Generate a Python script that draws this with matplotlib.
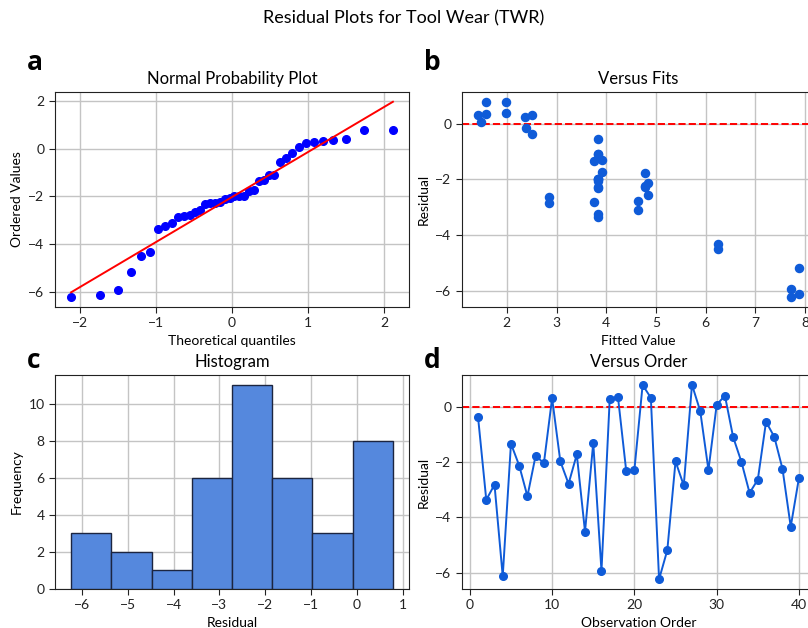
import numpy as np
import matplotlib
matplotlib.use("Agg")
import matplotlib.pyplot as plt
from statistics import NormalDist

plt.rcParams['font.family'] = ['Lato', 'DejaVu Sans']

# Residuals in observation order
residuals = [-0.38, -3.37, -2.82, -6.13, -1.34, -2.13, -3.24, -1.77, -2.05, 0.30,
             -1.98, -2.79, -1.73, -4.52, -1.31, -5.94, 0.26, 0.36, -2.31, -2.29,
             0.78, 0.32, -6.24, -5.19, -1.98, -2.85, 0.79, -0.16, -2.29, 0.06,
             0.40, -1.10, -1.99, -3.12, -2.64, -0.55, -1.09, -2.25, -4.34, -2.58]
# Fitted values matching each observation
fitted = [2.50, 3.84, 3.75, 7.88, 3.75, 4.84, 3.84, 4.78, 3.84, 2.50,
          3.84, 4.64, 3.91, 6.26, 3.91, 7.72, 2.37, 1.59, 3.84, 4.78,
          1.99, 1.42, 7.72, 7.88, 3.84, 2.84, 1.59, 2.38, 3.84, 1.47,
          1.99, 3.84, 3.84, 4.64, 2.84, 3.84, 3.84, 4.78, 6.26, 4.84]
order = list(range(1, len(residuals) + 1))
n_bins = 8

res = np.array(residuals)
n = len(res)

# Theoretical quantiles (Filliben order statistic medians)
m = np.empty(n)
m[-1] = 0.5 ** (1.0 / n)
m[0] = 1 - m[-1]
i = np.arange(2, n)
m[1:-1] = (i - 0.3175) / (n + 0.365)
nd = NormalDist()
osm = np.array([nd.inv_cdf(p) for p in m])
osr = np.sort(res)
slope, intercept = np.polyfit(osm, osr, 1)

W, H = 808, 628
fig = plt.figure(figsize=(W / 100, H / 100), dpi=100)

def ax_at(l, t, r, b):
    return fig.add_axes([l / W, 1 - b / H, (r - l) / W, (b - t) / H])

ax_a = ax_at(55, 92, 409, 307)
ax_b = ax_at(462, 92, 815, 307)
ax_c = ax_at(55, 375, 409, 589)
ax_d = ax_at(462, 375, 815, 589)

pt_color = '#0f5bd8'
grid_kw = dict(color='#c4c4c4', linewidth=1.0)
lab_fs = 10

for ax in (ax_a, ax_b, ax_c, ax_d):
    ax.grid(True, **grid_kw)
    ax.set_axisbelow(True)
    ax.tick_params(labelsize=10, colors='#222222', length=4)
    for s in ax.spines.values():
        s.set_color('#222222')

# a: normal probability plot
ax_a.plot(osm, osr, 'o', color='#0000ff', markersize=5.5)
ax_a.plot(osm, slope * osm + intercept, '-', color='#ff0000', linewidth=1.4)
ax_a.set_title('Normal Probability Plot', fontsize=12)
ax_a.set_xlabel('Theoretical quantiles', fontsize=lab_fs)
ax_a.set_ylabel('Ordered Values', fontsize=lab_fs)

# b: versus fits
ax_b.scatter(fitted, residuals, s=34, color=pt_color, zorder=3)
ax_b.axhline(0, color='#ff0000', linestyle='--', linewidth=1.4)
ax_b.set_title('Versus Fits', fontsize=12)
ax_b.set_xlabel('Fitted Value', fontsize=lab_fs)
ax_b.set_ylabel('Residual', fontsize=lab_fs)

# c: histogram
ax_c.hist(residuals, bins=n_bins, color='#5588dd', edgecolor='#1c2540', linewidth=1.0, zorder=3)
ax_c.set_title('Histogram', fontsize=12)
ax_c.set_xlabel('Residual', fontsize=lab_fs)
ax_c.set_ylabel('Frequency', fontsize=lab_fs)

# d: versus order
ax_d.plot(order, residuals, '-o', color=pt_color, markersize=5.5, linewidth=1.4, zorder=3)
ax_d.axhline(0, color='#ff0000', linestyle='--', linewidth=1.4)
ax_d.set_title('Versus Order', fontsize=12)
ax_d.set_xlabel('Observation Order', fontsize=lab_fs)
ax_d.set_ylabel('Residual', fontsize=lab_fs)

fig.suptitle('Residual Plots for Tool Wear (TWR)', fontsize=13, x=404 / W, y=1 - 18 / H, va='center')

lab_kw = dict(fontsize=19, fontweight='bold', family=['Open Sans', 'DejaVu Sans'], va='center', ha='left')
fig.text(27 / W, 1 - 62 / H, 'a', **lab_kw)
fig.text(424 / W, 1 - 62 / H, 'b', **lab_kw)
fig.text(27 / W, 1 - 361 / H, 'c', **lab_kw)
fig.text(424 / W, 1 - 361 / H, 'd', **lab_kw)

fig.savefig('out.png', dpi=100)
